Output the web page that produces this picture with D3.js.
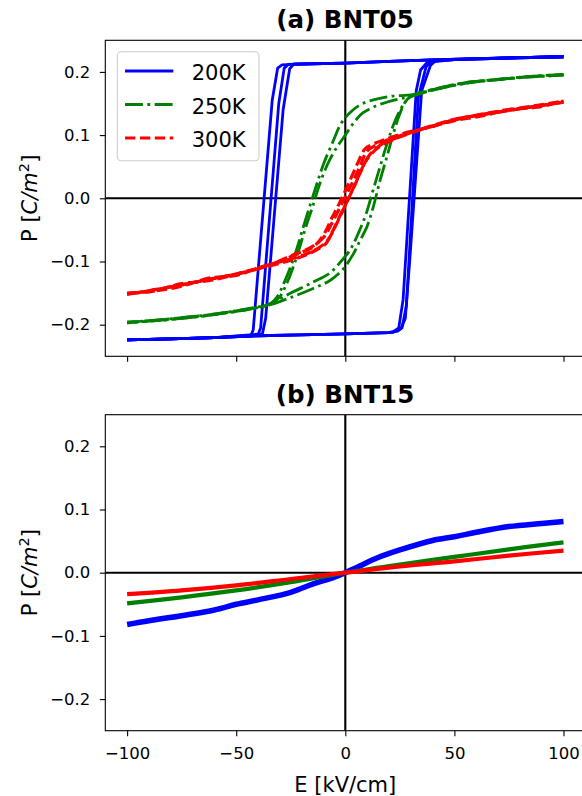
<!DOCTYPE html>
<html><head><meta charset="utf-8">
<script src="https://cdn.jsdelivr.net/npm/d3@7"></script>
<style>body{margin:0;background:#fff} text{font-family:"DejaVu Sans",sans-serif}</style>
</head><body><svg id="c" width="582" height="796"></svg>
<script>
// ---------- data ----------
const xTicks = [-100, -50, 0, 50, 100];
const yTicks = [-0.2, -0.1, 0.0, 0.1, 0.2];
const xDomain = [-110, 110];
const yDomain = [-0.25, 0.25];
const temps = ["200K", "250K", "300K"];
const panelTitles = ["(a) BNT05", "(b) BNT15"];

// BNT05, 200K : descending (E: +100 -> -100) and ascending branches, three cycles
const a200Down1 = [[100,0.224],[80,0.2225],[60,0.221],[40,0.219],[20,0.2165],[0,0.214],[-20,0.2125],[-29,0.211],[-31,0.206],[-33.5,0.155],[-42.2,-0.208],[-43.3,-0.218],[-60,-0.2205],[-80,-0.2225],[-100,-0.224]];
const a200Up1   = [[-100,-0.224],[-80,-0.2225],[-60,-0.2205],[-40,-0.2175],[-20,-0.216],[0,-0.2145],[20,-0.2125],[22,-0.211],[24.5,-0.205],[26.5,-0.16],[32.5,0.17],[34.5,0.203],[37.5,0.215],[50,0.2195],[75,0.222],[100,0.224]];
const a200Down2 = [[100,0.224],[80,0.2225],[60,0.221],[40,0.219],[20,0.2165],[0,0.214],[-20,0.2125],[-26,0.212],[-28,0.206],[-30.5,0.15],[-38.8,-0.205],[-40,-0.216],[-60,-0.2205],[-80,-0.2225],[-100,-0.224]];
const a200Up2   = [[-100,-0.224],[-80,-0.2225],[-60,-0.2205],[-40,-0.2175],[-20,-0.216],[0,-0.2145],[20,-0.2125],[24,-0.210],[26,-0.205],[28,-0.17],[33.5,0.16],[37,0.208],[39.5,0.217],[50,0.2195],[75,0.222],[100,0.224]];
const a200Down3 = [[100,0.224],[80,0.2225],[60,0.221],[40,0.219],[20,0.2165],[0,0.214],[-20,0.2125],[-23.5,0.2128],[-25.5,0.205],[-28.5,0.14],[-36.5,-0.19],[-38,-0.2145],[-60,-0.2205],[-80,-0.2225],[-100,-0.224]];
const a200Up3   = [[-100,-0.224],[-80,-0.2225],[-60,-0.2205],[-40,-0.2175],[-20,-0.216],[0,-0.2145],[20,-0.2125],[22,-0.212],[25.5,-0.206],[27.5,-0.19],[29.5,-0.1],[35,0.17],[39,0.21],[41.5,0.218],[50,0.2195],[75,0.222],[100,0.224]];

// BNT05, 250K
const a250Down1 = [[100,0.196],[85,0.193],[70,0.188],[55,0.183],[40,0.172],[31,0.164],[20,0.161],[8,0.150],[2,0.135],[-2,0.118],[-5.5,0.091],[-10,0.054],[-13,0.023],[-15.5,-0.004],[-19.3,-0.046],[-23,-0.088],[-27,-0.125],[-31.5,-0.157],[-35,-0.168],[-42,-0.173],[-50,-0.178],[-62,-0.184],[-75,-0.189],[-88,-0.193],[-100,-0.196]];
const a250Up1   = [[-100,-0.196],[-88,-0.193],[-75,-0.189],[-62,-0.184],[-50,-0.178],[-40,-0.173],[-34,-0.168],[-25,-0.157],[-15,-0.143],[-7,-0.130],[-1,-0.112],[3.7,-0.088],[6.7,-0.067],[9.8,-0.046],[12.8,-0.014],[15.9,0.028],[19,0.065],[22,0.102],[25,0.134],[28,0.155],[31.5,0.164],[40,0.172],[55,0.183],[70,0.188],[85,0.193],[100,0.196]];
const a250Down2 = [[100,0.195],[85,0.192],[70,0.188],[55,0.182],[40,0.171],[31,0.162],[22,0.155],[14,0.146],[8,0.135],[4,0.120],[0,0.100],[-4,0.080],[-8,0.055],[-12,0.020],[-14.5,-0.008],[-18.5,-0.050],[-22.5,-0.095],[-26.5,-0.132],[-30.5,-0.158],[-35,-0.169],[-42,-0.174],[-50,-0.179],[-62,-0.185],[-75,-0.190],[-88,-0.194],[-100,-0.197]];
const a250Up2   = [[-100,-0.197],[-88,-0.194],[-75,-0.190],[-62,-0.185],[-50,-0.179],[-40,-0.173],[-34,-0.166],[-25,-0.150],[-15,-0.133],[-7,-0.118],[-2,-0.100],[2.5,-0.080],[6,-0.055],[9.5,-0.025],[12.5,0.010],[15.5,0.045],[19,0.085],[22.5,0.120],[26,0.145],[29.5,0.160],[33,0.165],[40,0.171],[55,0.182],[70,0.188],[85,0.192],[100,0.195]];

// BNT05, 300K
const a300Down1 = [[100,0.152],[88,0.146],[75,0.139],[62,0.132],[50,0.125],[38,0.113],[26,0.100],[19,0.092],[13,0.082],[9.8,0.074],[6.7,0.050],[3.7,0.028],[0.6,0.007],[-2.4,-0.014],[-5.5,-0.035],[-10,-0.062],[-16,-0.078],[-25,-0.091],[-35,-0.106],[-50,-0.120],[-62,-0.128],[-75,-0.137],[-88,-0.145],[-100,-0.152]];
const a300Up1   = [[-100,-0.152],[-88,-0.145],[-75,-0.137],[-62,-0.128],[-50,-0.120],[-38,-0.110],[-26,-0.099],[-19,-0.091],[-13,-0.081],[-9,-0.072],[-5.5,-0.050],[-2.5,-0.028],[0.8,-0.005],[3.5,0.015],[6.5,0.038],[10,0.062],[15,0.080],[22,0.093],[30,0.103],[38,0.112],[50,0.124],[62,0.132],[75,0.139],[88,0.146],[100,0.152]];
const a300Down2 = [[100,0.154],[88,0.147],[75,0.140],[62,0.130],[50,0.123],[38,0.112],[26,0.102],[19,0.094],[13,0.086],[9,0.078],[6,0.058],[3,0.035],[0,0.012],[-3,-0.010],[-6,-0.030],[-9.5,-0.055],[-14,-0.075],[-22,-0.088],[-33,-0.103],[-48,-0.118],[-62,-0.130],[-75,-0.135],[-88,-0.147],[-100,-0.150]];
const a300Up2   = [[-100,-0.150],[-88,-0.147],[-75,-0.139],[-62,-0.126],[-50,-0.122],[-38,-0.108],[-26,-0.097],[-18,-0.088],[-12,-0.078],[-8,-0.066],[-4.5,-0.044],[-1.5,-0.022],[1.5,0.000],[4.5,0.022],[7.5,0.046],[11,0.068],[16,0.084],[23,0.095],[31,0.105],[40,0.114],[52,0.126],[64,0.134],[76,0.141],[88,0.144],[100,0.154]];

// BNT15
const b200 = [[-100,-0.082],[-90,-0.076],[-75,-0.068],[-60,-0.059],[-50,-0.050],[-40,-0.043],[-25,-0.031],[-15,-0.018],[-5,-0.007],[0,0],[5,0.008],[15,0.024],[25,0.036],[40,0.051],[50,0.057],[60,0.064],[75,0.073],[90,0.078],[100,0.081]];
const b250 = [[-100,-0.0486],[-75,-0.039],[-50,-0.028],[-25,-0.015],[0,0],[25,0.013],[50,0.025],[75,0.037],[100,0.048]];
const b300 = [[-100,-0.034],[-75,-0.028],[-50,-0.020],[-25,-0.010],[0,0],[25,0.010],[50,0.018],[75,0.027],[100,0.035]];

// ---------- drawing ----------
const svg = d3.select("#c");
const L = 105.3, W = 480, H = 316;
const tops = [40.3, 414.7];
const styles = {
  "200K": {color: "#0000ff", dash: null},
  "250K": {color: "#008000", dash: "17.9,4.5,2.8,4.5"},
  "300K": {color: "#ff0000", dash: "10.4,4.5"}
};
const x = d3.scaleLinear().domain(xDomain).range([L, L + W]);
const fmtY = d3.format(".1f"), fmtX = d3.format("d");

const panels = [
  {series: [
    {t: "200K", loops: [a200Down1, a200Up1, a200Down2, a200Up2, a200Down3, a200Up3], curve: d3.curveLinear, w: 2.8},
    {t: "250K", loops: [a250Down1, a250Up1, a250Down2, a250Up2], curve: d3.curveCatmullRom.alpha(0.5), w: 2.8},
    {t: "300K", loops: [a300Down1, a300Up1, a300Down2, a300Up2], curve: d3.curveCatmullRom.alpha(0.5), w: 3.2}
  ], legend: true},
  {series: [
    {t: "200K", loops: [b200], curve: d3.curveCatmullRom.alpha(0.5), w: 5.5, solid: true},
    {t: "250K", loops: [b250], curve: d3.curveCatmullRom.alpha(0.5), w: 4.2, solid: true},
    {t: "300K", loops: [b300], curve: d3.curveCatmullRom.alpha(0.5), w: 4.2, solid: true}
  ], legend: false}
];

panels.forEach((p, i) => {
  const top = tops[i];
  const y = d3.scaleLinear().domain(yDomain).range([top + H, top]);
  const clipId = "clip" + i;
  svg.append("clipPath").attr("id", clipId).append("rect")
    .attr("x", L).attr("y", top).attr("width", W).attr("height", H);
  const g = svg.append("g").attr("clip-path", `url(#${clipId})`);
  // zero lines
  g.append("line").attr("x1", L).attr("x2", L + W).attr("y1", y(0)).attr("y2", y(0))
    .attr("stroke", "#000").attr("stroke-width", 2.1);
  g.append("line").attr("x1", x(0)).attr("x2", x(0)).attr("y1", top).attr("y2", top + H)
    .attr("stroke", "#000").attr("stroke-width", 2.1);
  p.series.forEach(s => {
    const st = styles[s.t];
    const line = d3.line().x(d => x(d[0])).y(d => y(d[1])).curve(s.curve);
    s.loops.forEach((lp, k) => {
      g.append("path").attr("d", line(lp)).attr("fill", "none")
        .attr("stroke", st.color).attr("stroke-width", s.w)
        .attr("stroke-linejoin", "round")
        .attr("stroke-dasharray", s.solid ? null : st.dash)
        .attr("stroke-dashoffset", k * 5);
    });
  });
  // axes frame
  svg.append("rect").attr("x", L).attr("y", top).attr("width", W).attr("height", H)
    .attr("fill", "none").attr("stroke", "#000").attr("stroke-width", 1.1);
  // y axis
  const ya = svg.append("g").attr("transform", `translate(${L},0)`)
    .call(d3.axisLeft(y).tickValues(yTicks).tickFormat(d => fmtY(d)).tickSize(5.5).tickPadding(9.5));
  ya.select(".domain").remove();
  ya.selectAll("line").attr("stroke-width", 1.1);
  ya.selectAll("text").attr("font-size", 16.5).attr("font-family", "DejaVu Sans").attr("fill", "#000");
  // x axis
  const xa = svg.append("g").attr("transform", `translate(0,${top + H})`)
    .call(d3.axisBottom(x).tickValues(xTicks).tickFormat(d => i === 1 ? fmtX(d) : "").tickSize(5.5));
  xa.select(".domain").remove();
  xa.selectAll("line").attr("stroke-width", 1.1);
  xa.selectAll("text").attr("font-size", 16.5).attr("font-family", "DejaVu Sans").attr("fill", "#000")
    .attr("y", 28.2).attr("dy", 0);
  // title
  svg.append("text").attr("x", L + W / 2 - 0.3).attr("y", top - 12).attr("text-anchor", "middle")
    .attr("font-size", 24.5).attr("font-weight", "bold").text(panelTitles[i]);
  // y label
  const yl = svg.append("text").attr("transform", `translate(37,${top + H / 2}) rotate(-90)`)
    .attr("text-anchor", "middle").attr("font-size", 21);
  yl.append("tspan").text("P [");
  yl.append("tspan").attr("font-style", "italic").text("C/m");
  yl.append("tspan").attr("font-size", 14.7).attr("dy", -8).text("2");
  yl.append("tspan").attr("dy", 8).text("]");
  // legend
  if (p.legend) {
    const lg = svg.append("g");
    lg.append("rect").attr("x", 117.3).attr("y", 51.7).attr("width", 141.7).attr("height", 109)
      .attr("rx", 4).attr("fill", "#fff").attr("fill-opacity", 0.8)
      .attr("stroke", "#cccccc").attr("stroke-width", 1.1);
    temps.forEach((t, j) => {
      const yy = 71 + j * 33.5;
      const st = styles[t];
      lg.append("line").attr("x1", 125).attr("x2", 173.3).attr("y1", yy).attr("y2", yy)
        .attr("stroke", st.color).attr("stroke-width", 2.8).attr("stroke-dasharray", st.dash);
      lg.append("text").attr("x", 191.7).attr("y", yy + 9).attr("font-size", 21).text(t);
    });
  }
});
// x label
svg.append("text").attr("x", L + 240).attr("y", 792).attr("text-anchor", "middle")
  .attr("font-size", 21).text("E [kV/cm]");
</script></body></html>
